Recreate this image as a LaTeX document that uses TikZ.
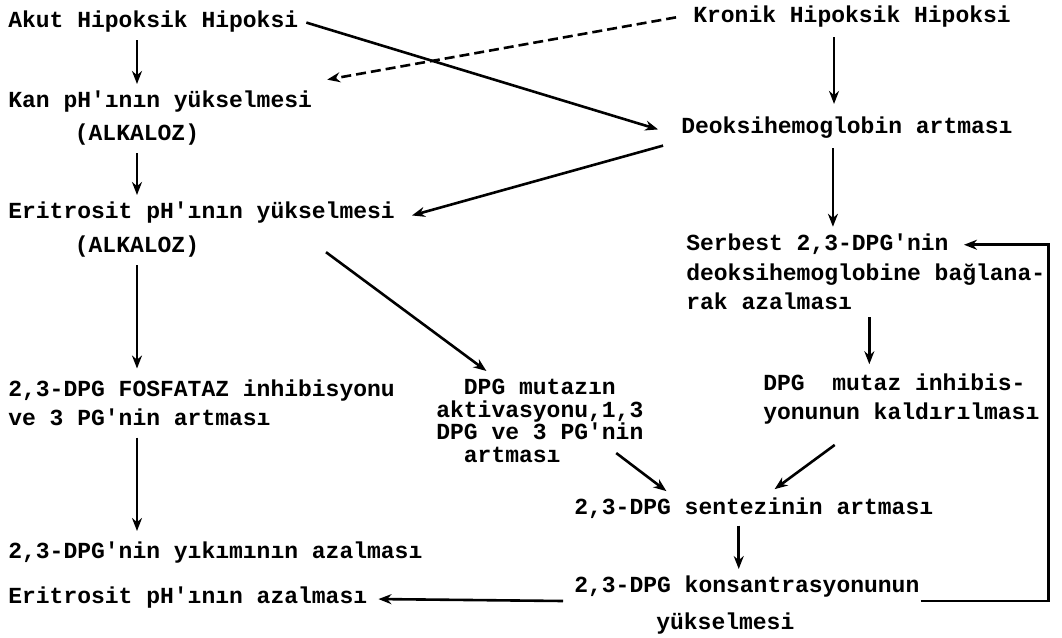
\documentclass[tikz,border=0pt]{standalone}
\usepackage{fontspec}
\newfontfamily\typer{Liberation Mono}
\usetikzlibrary{arrows.meta, positioning}
\newcommand{\ap}{\textquotesingle}
\tikzset{
  every picture/.style={line width=2.6pt},
  txt/.style={font=\typer\bfseries\fontsize{23}{29.5}\selectfont, inner sep=0pt, anchor=west, align=left},
  tight/.style={txt, font=\typer\bfseries\fontsize{23}{22.5}\selectfont},
  arrow/.style={-{Stealth[length=13pt, width=10pt]}, line width=2.6pt, shorten <=2pt, shorten >=2pt},
  dasharrow/.style={arrow, dash pattern=on 10pt off 5pt},
}
\begin{document}
\begin{tikzpicture}[x=1pt, y=-1pt]
  \useasboundingbox (0,0) rectangle (1062,637);
  % left column
  \node[txt] (akut) at (7,22) {Akut Hipoksik Hipoksi};
  \node[txt] (kan) at (7,102) {Kan pH\ap{}ının yükselmesi};
  \node[txt, anchor=center] (alk1) at (137,135) {(ALKALOZ)};
  \node[txt] (eritr) at (7,213) {Eritrosit pH\ap{}ının yükselmesi};
  \node[txt, anchor=center] (alk2) at (137,247) {(ALKALOZ)};
  \node[txt] (fosf) at (7,403) {2,3-DPG FOSFATAZ inhibisyonu\\ve 3 PG\ap{}nin artması};
  \node[txt] (yik) at (7,553) {2,3-DPG\ap{}nin yıkımının azalması};
  \node[txt] (erazal) at (7,598) {Eritrosit pH\ap{}ının azalması};
  % right column
  \node[txt] (kron) at (692,17) {Kronik Hipoksik Hipoksi};
  \node[txt] (deoks) at (680,128) {Deoksihemoglobin artması};
  \node[txt] (serb) at (685,272) {Serbest 2,3-DPG\ap{}nin\\deoksihemoglobine bağlana-\\rak azalması};
  \node[txt] (mutaz) at (762,399) {DPG\ \ mutaz inhibis-\\yonunun kaldırılması};
  \node[tight] (mid) at (435,421) {\phantom{xx}DPG mutazın\\aktivasyonu,1,3\\DPG ve 3 PG\ap{}nin\\\phantom{xx}artması};
  \node[txt] (synth) at (573,508) {2,3-DPG sentezinin artması};
  \node[txt] (konsan) at (573,587) {2,3-DPG konsantrasyonunun};
  \node[txt] (yuks) at (655,624) {yükselmesi};
  % connectors
  \draw[arrow] ([yshift=-4pt]akut.south -| alk1) -- ([yshift=4pt]kan.north -| alk1);
  \draw[arrow] ([yshift=-4pt]alk1.south) -- ([yshift=4pt]eritr.north -| alk1);
  \draw[arrow] ([yshift=-4pt]alk2.south) -- ([yshift=8pt]fosf.north -| alk2);
  \draw[arrow] ([yshift=-8pt]fosf.south -| alk2) -- ([yshift=8pt]yik.north -| alk2);
  \draw[arrow] ([xshift=-18pt, yshift=-6pt]kron.south) -- ([xshift=-18pt, yshift=10pt]kron.south |- deoks.north);
  \draw[arrow] ([xshift=-14pt, yshift=-6pt]deoks.south) -- ([xshift=-14pt, yshift=4pt]deoks.south |- serb.north);
  \draw[arrow] ([xshift=-32pt, yshift=-4pt]serb.south -| mutaz) -- ([xshift=-32pt, yshift=6pt]mutaz.north);
  \draw[arrow] ([xshift=-15pt, yshift=-4pt]synth.south) -- ([xshift=-15pt, yshift=4pt]synth.south |- konsan.north);
  \draw[arrow] ([xshift=5pt]akut.east) -- ([xshift=-20pt, yshift=-2pt]deoks.west);
  \draw[dasharrow] ([xshift=-14pt]kron.west) -- ([xshift=12pt, yshift=10pt]kan.north east);
  \draw[arrow] ([xshift=-15pt, yshift=-5pt]deoks.south west) -- ([xshift=14pt, yshift=-3pt]eritr.east);
  \draw[arrow] ([xshift=124pt, yshift=-4pt]alk2.east) -- ([xshift=53pt, yshift=6pt]mid.north west);
  \draw[arrow] ([xshift=-30pt, yshift=12pt]mid.south east) -- ([xshift=95pt, yshift=4pt]synth.north west);
  \draw[arrow] ([xshift=-65pt, yshift=-18pt]mutaz.south) -- ([xshift=200pt, yshift=6pt]synth.north west);
  \draw[arrow] ([xshift=-8pt, yshift=-2pt]konsan.south west) -- ([xshift=8pt]erazal.east |- konsan.south west);
  % feedback loop back to the free DPG
  \coordinate (loop) at ([shift={(2pt,-12pt)}]serb.north east);
  \coordinate (back) at ([shift={(277pt,-12pt)}]serb.north west);
  \draw[arrow, shorten <=0pt] ([yshift=-2pt]konsan.south east) -| (loop) -- (back);
\end{tikzpicture}
\end{document}
